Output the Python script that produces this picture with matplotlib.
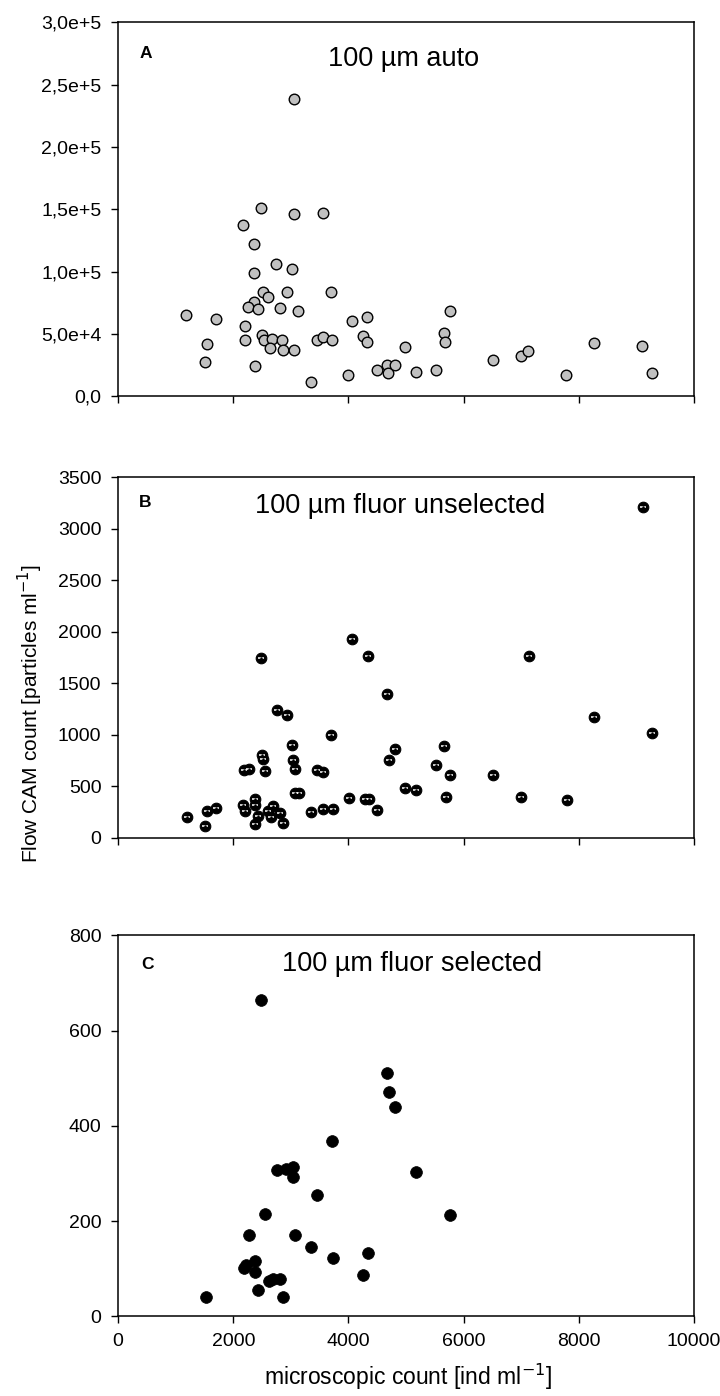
import matplotlib
matplotlib.use("Agg")
from matplotlib import pyplot as plt
from matplotlib.ticker import FixedLocator
import numpy as np

plt.rcParams['font.family'] = ['Liberation Sans', 'DejaVu Sans']

# panel A: 100 um auto
auto_x = [1181, 1547, 1512, 1692, 2162, 2196, 2210, 2362, 2362, 2362, 2258, 2424,
          2369, 2473, 2493, 2521, 2604, 2541, 2680, 2638, 2749, 2811, 2852, 2866,
          2928, 3011, 3046, 3059, 3059, 3115, 3343, 3446, 3550, 3550, 3715, 3695,
          3999, 4054, 4247, 4323, 4330, 4496, 4669, 4682, 4814, 4979, 5166, 5511,
          5663, 5684, 5767, 6506, 6996, 7120, 7783, 8267, 9102, 9261]
auto_y = [65100, 42000, 27400, 62500, 137200, 56400, 45400, 122500, 99200, 75400, 71500, 70500,
          24300, 151000, 49200, 83800, 80000, 45400, 45900, 38500, 106400, 70800, 45400, 36900,
          84100, 102300, 37400, 238700, 146700, 68200, 11500, 44900, 47400, 147200, 45100, 83600,
          17200, 60500, 48700, 43600, 63600, 21000, 25400, 19200, 24900, 40000, 19500, 21000,
          50800, 43800, 68700, 29500, 32600, 36400, 16900, 42800, 40800, 18500]

# panel B: 100 um fluor unselected
unsel_x = [9105, 4064, 2476, 4334, 7129, 4667, 2760, 2940, 8266, 3703, 9265, 3017,
           4813, 5666, 2490, 2524, 3037, 4695, 5513, 2178, 2275, 2559, 3072, 3447,
           3558, 5770, 6512, 3079, 3135, 4986, 5173, 4008, 4286, 4348, 5687, 6997,
           7788, 4501, 3343, 3551, 3724, 1193, 1546, 1699, 2164, 2212, 2379, 2379,
           2427, 2600, 2684, 2809, 2649, 2857, 1512, 2379]
unsel_y = [3211, 1928, 1750, 1762, 1768, 1399, 1241, 1193, 1170, 1000, 1015, 899,
           860, 893, 806, 768, 750, 756, 702, 661, 670, 646, 664, 661,
           634, 607, 610, 432, 432, 485, 458, 384, 372, 372, 399, 399,
           369, 268, 253, 277, 277, 205, 262, 292, 318, 256, 375, 315,
           211, 256, 310, 235, 196, 146, 113, 128]

# panel C: 100 um fluor selected
sel_x = [2483, 4667, 4695, 4813, 3710, 2760, 2913, 3030, 3044, 5173, 3453, 2559,
         5770, 2268, 3079, 3356, 3724, 4341, 4258, 2183, 2224, 2379, 2379, 2614,
         2684, 2816, 2427, 1526, 2857]
sel_y = [664, 510, 471, 439, 369, 307, 309, 314, 292, 304, 255, 214,
         212, 170, 171, 145, 122, 134, 88, 101, 109, 117, 93, 74,
         79, 78, 56, 41, 41]

x_ticks = [0, 2000, 4000, 6000, 8000, 10000]
a_ticks = [0, 50000, 100000, 150000, 200000, 250000, 300000]
a_labels = ['0,0', '5,0e+4', '1,0e+5', '1,5e+5', '2,0e+5', '2,5e+5', '3,0e+5']
b_ticks = [0, 500, 1000, 1500, 2000, 2500, 3000, 3500]
c_ticks = [0, 200, 400, 600, 800]

fig = plt.figure(figsize=(7.2, 13.96), dpi=100)
L, W = 0.164, 0.800
axA = fig.add_axes([L, 0.716, W, 0.268])
axB = fig.add_axes([L, 0.400, W, 0.258])
axC = fig.add_axes([L, 0.057, W, 0.273])


def style(ax, yticks, ylim, ylabels=None, xlabels=False):
    ax.set_xlim(0, 10000)
    ax.set_ylim(*ylim)
    ax.xaxis.set_major_locator(FixedLocator(x_ticks))
    ax.yaxis.set_major_locator(FixedLocator(yticks))
    if ylabels is not None:
        ax.set_yticklabels(ylabels)
    if not xlabels:
        ax.set_xticklabels([])
    ax.tick_params(direction='out', length=5, width=1, labelsize=14,
                   top=False, right=False, pad=7)
    for s in ax.spines.values():
        s.set_linewidth(1.1)


style(axA, a_ticks, (0, 300000), a_labels)
axA.scatter(auto_x, auto_y, s=58, c='#c0c0c0', edgecolors='black', linewidths=1, zorder=3)
axA.text(0.038, 0.916, 'A', transform=axA.transAxes, fontsize=12.5, fontweight='bold', va='center')
axA.text(0.496, 0.903, '100 µm auto', transform=axA.transAxes, fontsize=19.5, ha='center', va='center')

style(axB, b_ticks, (0, 3500))
axB.scatter(unsel_x, unsel_y, s=58, c='black', edgecolors='black', linewidths=0.8, zorder=3)
axB.scatter(unsel_x, unsel_y, s=14, marker='_', c='white', linewidths=1.1, zorder=4)
axB.scatter(unsel_x, unsel_y, s=3, c='black', linewidths=0, zorder=5)
axB.text(0.036, 0.93, 'B', transform=axB.transAxes, fontsize=12.5, fontweight='bold', va='center')
axB.text(0.49, 0.922, '100 µm fluor unselected', transform=axB.transAxes, fontsize=19.5,
         ha='center', va='center')

style(axC, c_ticks, (0, 800), xlabels=True)
axC.scatter(sel_x, sel_y, s=72, c='black', edgecolors='black', linewidths=0.5, zorder=3)
axC.text(0.04, 0.924, 'C', transform=axC.transAxes, fontsize=12.5, fontweight='bold', va='center')
axC.text(0.51, 0.924, '100 µm fluor selected', transform=axC.transAxes, fontsize=19.5,
         ha='center', va='center')

fig.text(0.042, 0.489, 'Flow CAM count [particles ml$^{-1}$]', rotation=90,
         ha='center', va='center', fontsize=15)
fig.text(0.566, 0.014, 'microscopic count [ind ml$^{-1}$]', ha='center', va='center', fontsize=16.5)

fig.savefig('out.png', dpi=100)
